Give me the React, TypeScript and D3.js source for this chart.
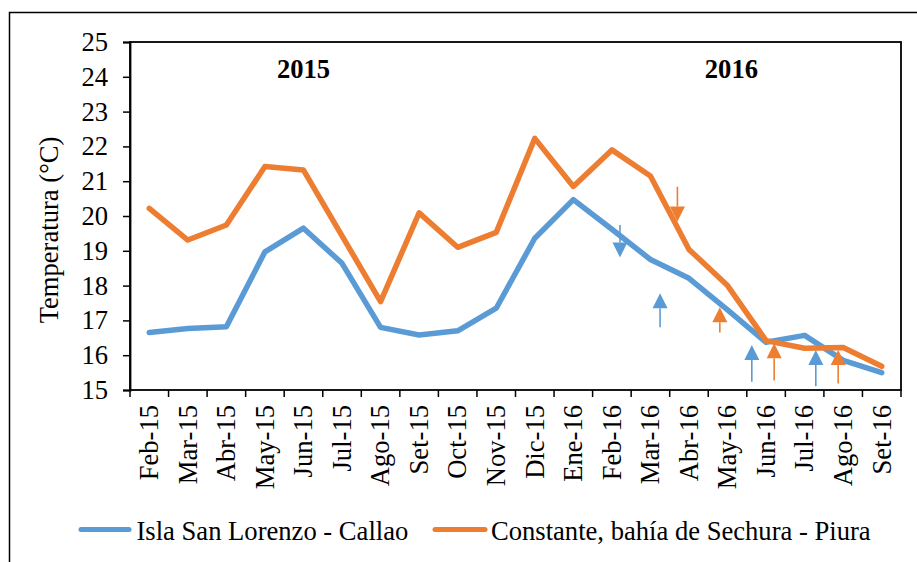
import * as d3 from "d3";
import React, { useEffect, useRef } from "react";

// months on the x axis
const months = [
    "Feb-15", "Mar-15", "Abr-15", "May-15", "Jun-15", "Jul-15", "Ago-15", "Set-15",
    "Oct-15", "Nov-15", "Dic-15", "Ene-16", "Feb-16", "Mar-16", "Abr-16", "May-16",
    "Jun-16", "Jul-16", "Ago-16", "Set-16",
];

// mean temperature (°C)
const callao = [
    16.65, 16.77, 16.82, 18.97, 19.65, 18.64, 16.8, 16.58, 16.7, 17.35, 19.36,
    20.47, 19.62, 18.75, 18.21, 17.3, 16.37, 16.57, 15.85, 15.5,
];
const sechura = [
    20.22, 19.31, 19.74, 21.42, 21.32, 19.43, 17.54, 20.09, 19.1, 19.53, 22.23,
    20.85, 21.9, 21.15, 19.04, 18.0, 16.42, 16.2, 16.22, 15.68,
];

const yTicks = [15, 16, 17, 18, 19, 20, 21, 22, 23, 24, 25];

const seriesNames = ["Isla San Lorenzo - Callao", "Constante, bahía de Sechura - Piura"];
const seriesColors = ["#5B9BD5", "#ED7D31"];

// year labels: position as month index and temperature
const yearLabels = [
    { text: "2015", at: 4, value: 23.97 },
    { text: "2016", at: 15.1, value: 23.97 },
];

// event arrows: series, month index, tail value, tip value
const arrows = [
    { s: 0, at: 12.21, from: 19.74, to: 18.81 },
    { s: 1, at: 13.7, from: 20.84, to: 19.84 },
    { s: 0, at: 13.25, from: 16.8, to: 17.78 },
    { s: 1, at: 14.8, from: 16.65, to: 17.38 },
    { s: 0, at: 15.63, from: 15.24, to: 16.29 },
    { s: 1, at: 16.21, from: 15.27, to: 16.34 },
    { s: 0, at: 17.29, from: 15.11, to: 16.15 },
    { s: 1, at: 17.87, from: 15.19, to: 16.15 },
];

const App = () => {
    const svgRef = useRef(null);

    const width = 917;
    const height = 562;
    const left = 130;
    const right = 901;
    const top = 42;
    const bottom = 390;
    const font = "Liberation Serif, Times New Roman, serif";
    const fontSize = "26.6px";

    useEffect(() => {
        const svg = d3.select(svgRef.current);
        svg.selectAll("*").remove();

        const xScale = d3.scaleBand().domain(months).range([left, right]).padding(0);
        const yScale = d3.scaleLinear().domain([15, 25]).range([bottom, top]);
        const xAt = (i) => left + xScale.step() * i + xScale.bandwidth() / 2;

        const setFont = (sel, weight = "normal") => sel
            .attr("fill", "black")
            .style("font-family", font)
            .style("font-size", fontSize)
            .style("font-weight", weight);

        // outer frame
        svg.append("rect")
            .attr("x", 9.5).attr("y", 12.5)
            .attr("width", 930).attr("height", 570)
            .attr("fill", "white")
            .attr("stroke", "black")
            .attr("stroke-width", 1.5);

        // plot frame
        svg.append("rect")
            .attr("x", left).attr("y", top)
            .attr("width", right - left).attr("height", bottom - top)
            .attr("fill", "none")
            .attr("stroke", "black")
            .attr("stroke-width", 1.8);

        // y axis
        const yAxis = d3.axisLeft(yScale).tickValues(yTicks).tickSize(7).tickPadding(15);
        const yAxisGroup = svg.append("g")
            .attr("transform", `translate(${left}, 0)`)
            .call(yAxis);
        yAxisGroup.attr("font-family", null).attr("font-size", null);
        yAxisGroup.select(".domain").attr("stroke-width", 1.8);
        yAxisGroup.selectAll(".tick line").attr("stroke-width", 1.5);
        setFont(yAxisGroup.selectAll("text"));

        // x ticks at band edges
        const edges = d3.range(months.length + 1).map((i) => left + xScale.step() * i);
        svg.append("g").selectAll("line")
            .data(edges)
            .enter()
            .append("line")
            .attr("x1", (d) => d).attr("x2", (d) => d)
            .attr("y1", bottom).attr("y2", bottom + 7)
            .attr("stroke", "black")
            .attr("stroke-width", 1.5);

        setFont(svg.append("g").selectAll("text")
            .data(months)
            .enter()
            .append("text")
            .attr("transform", (d) => `translate(${xScale(d) + xScale.bandwidth() / 2}, 405) rotate(-90)`)
            .attr("text-anchor", "end")
            .attr("dy", "0.33em")
            .text((d) => d));

        // y axis title
        setFont(svg.append("text")
            .attr("transform", `translate(58, ${(top + bottom) / 2 + 14}) rotate(-90)`)
            .attr("text-anchor", "middle")
            .text("Temperatura (°C)"));

        // year labels
        setFont(svg.append("g").selectAll("text")
            .data(yearLabels)
            .enter()
            .append("text")
            .attr("x", (d) => xAt(d.at))
            .attr("y", (d) => yScale(d.value))
            .attr("text-anchor", "middle")
            .text((d) => d.text), "bold");

        // lines
        const line = d3.line()
            .x((d, i) => xAt(i))
            .y((d) => yScale(d));
        [callao, sechura].forEach((values, s) => {
            svg.append("path")
                .datum(values)
                .attr("d", line)
                .attr("fill", "none")
                .attr("stroke", seriesColors[s])
                .attr("stroke-width", 5.5)
                .attr("stroke-linejoin", "round")
                .attr("stroke-linecap", "round");
        });

        // arrows
        const headLen = 15;
        const headHalf = 7.5;
        const arrowGroup = svg.append("g");
        arrows.forEach((a) => {
            const x = xAt(a.at);
            const y0 = yScale(a.from);
            const y1 = yScale(a.to);
            const dir = y1 > y0 ? 1 : -1;
            const base = y1 - dir * headLen;
            arrowGroup.append("line")
                .attr("x1", x).attr("x2", x)
                .attr("y1", y0).attr("y2", base)
                .attr("stroke", seriesColors[a.s])
                .attr("stroke-width", 1.6);
            arrowGroup.append("path")
                .attr("d", `M${x - headHalf},${base}L${x + headHalf},${base}L${x},${y1}Z`)
                .attr("fill", seriesColors[a.s]);
        });

        // legend
        const legendItems = [
            { x1: 81, x2: 129, tx: 136.5 },
            { x1: 435, x2: 485, tx: 491 },
        ];
        const legend = svg.append("g");
        legendItems.forEach((item, i) => {
            legend.append("line")
                .attr("x1", item.x1).attr("x2", item.x2)
                .attr("y1", 529.5).attr("y2", 529.5)
                .attr("stroke", seriesColors[i])
                .attr("stroke-width", 5)
                .attr("stroke-linecap", "round");
            setFont(legend.append("text")
                .attr("x", item.tx)
                .attr("y", 539.5)
                .text(seriesNames[i]));
        });
    }, []);

    return (
        <svg
            ref={svgRef}
            width={width}
            height={height}
            style={{ position: "absolute", left: 0, top: 0, background: "white" }}
        />
    );
};

export default App;
